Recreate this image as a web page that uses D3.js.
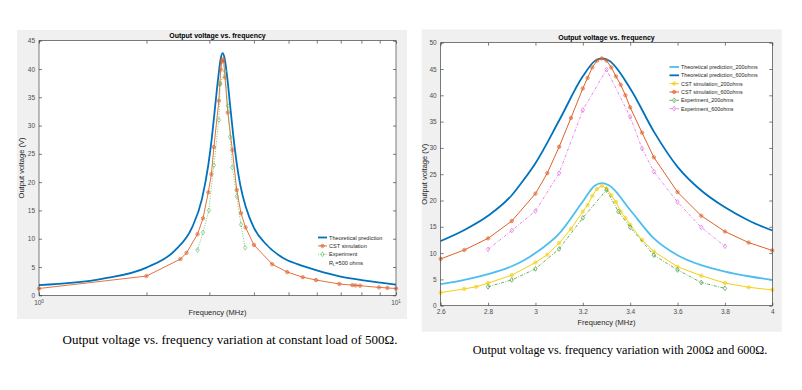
<!DOCTYPE html>
<html>
<head>
<meta charset="utf-8">
<script src="https://cdn.jsdelivr.net/npm/d3@7"></script>
<style>
  body { margin: 0; background: #fff; }
  svg { display: block; font-family: "Liberation Sans", Arial, sans-serif; }
</style>
</head>
<body>
<svg id="fig" width="802" height="390"></svg>
<script>
// ---- left chart: constant 500 ohm load, log frequency axis ----
const theoryFreq500 = [1, 1.5, 2, 2.4, 2.68, 2.86, 2.98, 3.05, 3.11, 3.18, 3.23, 3.27, 3.31, 3.37, 3.43, 3.5, 3.58, 3.66, 3.8, 4.0, 4.3, 4.8, 5.3, 6.0, 7.0, 8.2, 10];
const theoryVolt500 = [1.8, 2.9, 4.9, 7.9, 11.9, 17.0, 23.0, 27.9, 33.0, 38.7, 41.9, 42.8, 41.9, 38.3, 33.6, 28.3, 23.3, 19.6, 15.5, 11.9, 9.2, 6.7, 5.5, 4.4, 3.3, 2.6, 1.9];
const cstFreq500 = [1, 2, 2.49, 2.59, 2.78, 2.88, 2.98, 3.04, 3.09, 3.19, 3.21, 3.23, 3.25, 3.27, 3.29, 3.32, 3.38, 3.48, 3.58, 3.68, 3.79, 4.0, 4.5, 4.96, 5.48, 5.97, 6.94, 7.55, 7.71, 7.93, 8.96, 9.46, 10];
const cstVolt500 = [1.2, 3.4, 6.4, 7.5, 10.8, 13.6, 18.2, 21.4, 26.2, 34.4, 37.3, 39.9, 41.3, 41.7, 41.5, 38.5, 32.3, 25.7, 18.6, 14.5, 12.0, 8.9, 5.5, 4.1, 3.2, 2.7, 2.0, 1.8, 1.75, 1.7, 1.4, 1.3, 1.2];
const expFreq500 = [2.78, 2.88, 2.99, 3.09, 3.19, 3.22, 3.32, 3.38, 3.43, 3.48, 3.58, 3.68, 3.78];
const expVolt500 = [8.0, 11.1, 15.0, 23.0, 31.0, 37.5, 39.6, 33.5, 28.0, 22.6, 17.5, 12.5, 8.4];
const leftYTicks = [0, 5, 10, 15, 20, 25, 30, 35, 40, 45];
const leftXMinor = [1, 2, 3, 4, 5, 6, 7, 8, 9, 10];

// ---- right chart: 200 and 600 ohm loads ----
const theoryFreq = [2.6, 2.7, 2.8, 2.9, 2.95, 3.0, 3.1, 3.2, 3.25, 3.28, 3.31, 3.4, 3.5, 3.6, 3.7, 3.8, 3.9, 4.0];
const theoryVolt200 = [4.1, 4.9, 6.0, 7.5, 8.6, 10.0, 13.7, 19.8, 22.8, 23.3, 22.9, 18.2, 12.8, 9.6, 7.7, 6.5, 5.6, 4.9];
const theoryVolt600 = [12.3, 14.4, 17.1, 21.0, 23.9, 27.1, 35.2, 43.6, 46.5, 47.0, 46.6, 41.3, 33.1, 26.4, 21.9, 18.7, 16.2, 14.3];
const cstFreq200 = [2.6, 2.7, 2.75, 2.8, 2.9, 3.0, 3.05, 3.1, 3.15, 3.2, 3.22, 3.24, 3.26, 3.28, 3.3, 3.32, 3.34, 3.36, 3.38, 3.4, 3.45, 3.5, 3.6, 3.7, 3.8, 3.9, 4.0];
const cstVolt200 = [2.5, 3.2, 3.6, 4.3, 5.8, 8.2, 9.7, 11.9, 14.6, 17.9, 19.1, 20.9, 22.2, 22.8, 22.3, 21.0, 19.7, 17.9, 16.7, 15.4, 12.5, 10.3, 7.4, 5.7, 4.3, 3.5, 3.0];
const cstFreq600 = [2.6, 2.7, 2.8, 2.9, 3.0, 3.05, 3.1, 3.15, 3.2, 3.22, 3.24, 3.26, 3.28, 3.3, 3.32, 3.34, 3.36, 3.38, 3.4, 3.45, 3.5, 3.6, 3.7, 3.8, 3.9, 4.0];
const cstVolt600 = [8.9, 10.6, 12.8, 16.1, 21.3, 25.2, 30.2, 35.7, 41.3, 43.3, 45.3, 46.6, 47.0, 46.6, 45.3, 43.6, 42.0, 40.0, 37.7, 32.9, 28.2, 21.6, 17.1, 14.1, 12.0, 10.5];
const expFreq200 = [2.8, 2.9, 3.0, 3.1, 3.2, 3.3, 3.35, 3.4, 3.5, 3.6, 3.7, 3.8];
const expVolt200 = [3.6, 4.9, 7.0, 10.8, 16.7, 22.0, 17.9, 14.9, 9.6, 6.8, 4.4, 3.3];
const expFreq600 = [2.8, 2.9, 3.0, 3.1, 3.2, 3.3, 3.4, 3.45, 3.5, 3.6, 3.7, 3.8];
const expVolt600 = [10.7, 14.3, 18.0, 25.2, 37.2, 44.9, 35.9, 29.9, 25.5, 19.7, 14.9, 11.3];
const rightYTicks = [0, 5, 10, 15, 20, 25, 30, 35, 40, 45, 50];
const rightXTicks = [2.6, 2.8, 3, 3.2, 3.4, 3.6, 3.8, 4];

const svg = d3.select("#fig");

const cBlue = "#0072bd",
  cLightBlue = "#4dbeee",
  cOrange = "#e0622a",
  cYellow = "#f5cf10",
  cGreen = "#3f9b3f",
  cLightGreen = "#66c266",
  cMagenta = "#e36ce3";

function zip(xs, ys) {
  return xs.map((x, i) => [x, ys[i]]);
}

// small hexagram-ish marker used by the CST series
function cstMarker(g, pts, x, y, color) {
  const m = g.selectAll(null)
    .data(pts)
    .join("g")
    .attr("transform", (d) => `translate(${x(d[0])},${y(d[1])})`);
  m.append("circle").attr("r", 1.7)
    .attr("fill", "none").attr("stroke", color).attr("stroke-width", 0.7);
  m.append("path").attr("d", "M-1.2,0H1.2M0,-1.2V1.2")
    .attr("stroke", color).attr("stroke-width", 0.6);
}

function diamondMarker(g, pts, x, y, color) {
  g.selectAll(null)
    .data(pts)
    .join("path")
    .attr("d", "M0,-2.4L1.7,0L0,2.4L-1.7,0Z")
    .attr("transform", (d) => `translate(${x(d[0])},${y(d[1])})`)
    .attr("fill", "none")
    .attr("stroke", color)
    .attr("stroke-width", 0.7);
}

function drawFrame(opt) {
  const { bg, x0, x1, y0, y1 } = opt;
  svg.append("rect")
    .attr("x", bg[0]).attr("y", bg[1])
    .attr("width", bg[2]).attr("height", bg[3])
    .attr("fill", "#f0f0f0");
  svg.append("rect")
    .attr("x", x0).attr("y", y0)
    .attr("width", x1 - x0).attr("height", y1 - y0)
    .attr("fill", "#fff");
}

function drawBox(x0, x1, y0, y1) {
  svg.append("rect")
    .attr("x", x0).attr("y", y0)
    .attr("width", x1 - x0).attr("height", y1 - y0)
    .attr("fill", "none")
    .attr("stroke", "#262626")
    .attr("stroke-width", 0.6);
}

function styleAxis(g) {
  g.select(".domain").remove();
  g.selectAll(".tick line").attr("stroke", "#262626").attr("stroke-width", 0.6);
  g.selectAll(".tick text")
    .attr("fill", "#4d4d4d")
    .style("font-size", "6.5px")
    .style("font-family", "Liberation Sans, Arial, sans-serif");
}

function titles(cx, cy, titleY, xlabelY, ylabelX) {
  svg.append("text")
    .attr("x", cx).attr("y", titleY)
    .attr("text-anchor", "middle")
    .style("font-size", "7px").style("font-weight", "bold")
    .text("Output voltage vs. frequency");
  svg.append("text")
    .attr("x", cx).attr("y", xlabelY)
    .attr("text-anchor", "middle")
    .attr("fill", "#262626")
    .style("font-size", "7.5px")
    .text("Frequency (MHz)");
  svg.append("text")
    .attr("transform", `translate(${ylabelX},${cy}) rotate(-90)`)
    .attr("text-anchor", "middle")
    .attr("fill", "#262626")
    .style("font-size", "7.5px")
    .text("Output voltage (V)");
}

// ================= left chart =================
function drawLeft() {
  const x0 = 39, x1 = 396, y0 = 40.7, y1 = 295.3;
  drawFrame({ bg: [17, 30, 390, 289], x0, x1, y0, y1 });

  const x = d3.scaleLog().domain([1, 10]).range([x0, x1]);
  const y = d3.scaleLinear().domain([0, 45]).range([y1, y0]);

  const yl = svg.append("g").attr("transform", `translate(${x0},0)`)
    .call(d3.axisLeft(y).tickValues(leftYTicks).tickSize(-3).tickPadding(4));
  styleAxis(yl);
  const yr = svg.append("g").attr("transform", `translate(${x1},0)`)
    .call(d3.axisRight(y).tickValues(leftYTicks).tickSize(-3).tickFormat(""));
  styleAxis(yr);
  const xb = svg.append("g").attr("transform", `translate(0,${y1})`)
    .call(d3.axisBottom(x).tickValues(leftXMinor).tickSize(-3).tickFormat(""));
  styleAxis(xb);
  const xt = svg.append("g").attr("transform", `translate(0,${y0})`)
    .call(d3.axisTop(x).tickValues(leftXMinor).tickSize(-3).tickFormat(""));
  styleAxis(xt);

  // 10^0 and 10^1 labels
  [1, 10].forEach((v, i) => {
    const t = svg.append("text")
      .attr("x", x(v)).attr("y", y1 + 10)
      .attr("text-anchor", "middle")
      .attr("fill", "#4d4d4d")
      .style("font-size", "6.5px");
    t.append("tspan").text("10");
    t.append("tspan").attr("dy", -2.5).style("font-size", "4.5px").text(String(i));
  });

  const plot = svg.append("g");

  const lineLin = d3.line().x((d) => x(d[0])).y((d) => y(d[1]));
  const lineSmooth = d3.line().x((d) => x(d[0])).y((d) => y(d[1])).curve(d3.curveMonotoneX);

  const theory = zip(theoryFreq500, theoryVolt500);
  const cst = zip(cstFreq500, cstVolt500);
  const exp = zip(expFreq500, expVolt500);

  plot.append("path").datum(theory).attr("d", lineSmooth)
    .attr("fill", "none").attr("stroke", cBlue).attr("stroke-width", 1.8);
  plot.append("path").datum(cst).attr("d", lineLin)
    .attr("fill", "none").attr("stroke", cOrange).attr("stroke-width", 0.9);
  cstMarker(plot, cst, x, y, cOrange);
  plot.append("path").datum(exp).attr("d", lineLin)
    .attr("fill", "none").attr("stroke", cLightGreen).attr("stroke-width", 0.9)
    .attr("stroke-dasharray", "1,1.5");
  diamondMarker(plot, exp, x, y, cLightGreen);

  drawBox(x0, x1, y0, y1);
  titles((x0 + x1) / 2, (y0 + y1) / 2, 37.5, 315, 24);

  // legend
  const lg = svg.append("g");
  const idx = d3.scaleLinear().domain([0, 1]).range([0, 1]);
  const rows = [
    { name: "Theoretical prediction", color: cBlue, w: 1.8, dash: null, mk: null },
    { name: "CST simulation", color: cOrange, w: 0.9, dash: null, mk: "cst" },
    { name: "Experiment", color: cLightGreen, w: 0.9, dash: "1,1.5", mk: "exp" },
  ];
  rows.forEach((r, i) => {
    const ly = 237.5 + i * 8.4;
    lg.append("line").attr("x1", 318).attr("x2", 327).attr("y1", ly).attr("y2", ly)
      .attr("stroke", r.color).attr("stroke-width", r.w).attr("stroke-dasharray", r.dash);
    if (r.mk == "cst") cstMarker(lg, [[322.5, ly]], idx, idx, r.color);
    if (r.mk == "exp") diamondMarker(lg, [[322.5, ly]], idx, idx, r.color);
    lg.append("text").attr("x", 329).attr("y", ly + 2)
      .style("font-size", "5.6px").attr("fill", "#262626").text(r.name);
  });
  const rl = lg.append("text").attr("x", 329).attr("y", 237.5 + 3 * 8.4 + 2)
    .style("font-size", "5.6px").attr("fill", "#262626");
  rl.append("tspan").text("R");
  rl.append("tspan").attr("dy", 1).style("font-size", "4px").text("L");
  rl.append("tspan").attr("dy", -1).text("=500 ohms");
}

// ================= right chart =================
function drawRight() {
  const x0 = 440.7, x1 = 772.3, y0 = 42.7, y1 = 305.7;
  drawFrame({ bg: [421.7, 29.3, 360, 302.4], x0, x1, y0, y1 });

  const x = d3.scaleLinear().domain([2.6, 4]).range([x0, x1]);
  const y = d3.scaleLinear().domain([0, 50]).range([y1, y0]);

  const yl = svg.append("g").attr("transform", `translate(${x0},0)`)
    .call(d3.axisLeft(y).tickValues(rightYTicks).tickSize(-3).tickPadding(4));
  styleAxis(yl);
  const yr = svg.append("g").attr("transform", `translate(${x1},0)`)
    .call(d3.axisRight(y).tickValues(rightYTicks).tickSize(-3).tickFormat(""));
  styleAxis(yr);
  const xb = svg.append("g").attr("transform", `translate(0,${y1})`)
    .call(d3.axisBottom(x).tickValues(rightXTicks).tickSize(-3).tickPadding(4).tickFormat(d3.format("")));
  styleAxis(xb);
  const xt = svg.append("g").attr("transform", `translate(0,${y0})`)
    .call(d3.axisTop(x).tickValues(rightXTicks).tickSize(-3).tickFormat(""));
  styleAxis(xt);

  const g = svg.append("g");
  const lineLin = d3.line().x((d) => x(d[0])).y((d) => y(d[1]));
  const lineSmooth = d3.line().x((d) => x(d[0])).y((d) => y(d[1])).curve(d3.curveMonotoneX);

  g.append("path").datum(zip(theoryFreq, theoryVolt200)).attr("d", lineSmooth)
    .attr("fill", "none").attr("stroke", cLightBlue).attr("stroke-width", 1.8);
  g.append("path").datum(zip(theoryFreq, theoryVolt600)).attr("d", lineSmooth)
    .attr("fill", "none").attr("stroke", cBlue).attr("stroke-width", 1.8);

  const c200 = zip(cstFreq200, cstVolt200);
  const c600 = zip(cstFreq600, cstVolt600);
  g.append("path").datum(c200).attr("d", lineLin)
    .attr("fill", "none").attr("stroke", cYellow).attr("stroke-width", 1);
  cstMarker(g, c200, x, y, cYellow);
  g.append("path").datum(c600).attr("d", lineLin)
    .attr("fill", "none").attr("stroke", cOrange).attr("stroke-width", 1);
  cstMarker(g, c600, x, y, cOrange);

  const e200 = zip(expFreq200, expVolt200);
  const e600 = zip(expFreq600, expVolt600);
  g.append("path").datum(e200).attr("d", lineLin)
    .attr("fill", "none").attr("stroke", cGreen).attr("stroke-width", 0.8)
    .attr("stroke-dasharray", "3,1.5,0.8,1.5");
  diamondMarker(g, e200, x, y, cGreen);
  g.append("path").datum(e600).attr("d", lineLin)
    .attr("fill", "none").attr("stroke", cMagenta).attr("stroke-width", 0.8)
    .attr("stroke-dasharray", "3,1.5,0.8,1.5");
  diamondMarker(g, e600, x, y, cMagenta);

  drawBox(x0, x1, y0, y1);
  titles((x0 + x1) / 2, (y0 + y1) / 2, 39.5, 325, 427);

  const lg = svg.append("g");
  const rows = [
    { name: "Theoretical prediction_200ohms", color: cLightBlue, w: 1.8, dash: null, mk: null },
    { name: "Theoretical prediction_600ohms", color: cBlue, w: 1.8, dash: null, mk: null },
    { name: "CST simulation_200ohms", color: cYellow, w: 1, dash: null, mk: "cst" },
    { name: "CST simulation_600ohms", color: cOrange, w: 1, dash: null, mk: "cst" },
    { name: "Experiment_200ohms", color: cGreen, w: 0.8, dash: "3,1.5,0.8,1.5", mk: "exp" },
    { name: "Experiment_600ohms", color: cMagenta, w: 0.8, dash: "3,1.5,0.8,1.5", mk: "exp" },
  ];
  const idx = d3.scaleLinear().domain([0, 1]).range([0, 1]);
  rows.forEach((r, i) => {
    const ly = 67 + i * 8.33;
    lg.append("line").attr("x1", 669.5).attr("x2", 679).attr("y1", ly).attr("y2", ly)
      .attr("stroke", r.color).attr("stroke-width", r.w).attr("stroke-dasharray", r.dash);
    if (r.mk == "cst") cstMarker(lg, [[674.2, ly]], idx, idx, r.color);
    if (r.mk == "exp") diamondMarker(lg, [[674.2, ly]], idx, idx, r.color);
    lg.append("text").attr("x", 681).attr("y", ly + 2)
      .style("font-size", "5.4px").attr("fill", "#262626").text(r.name);
  });
}

drawLeft();
drawRight();

// captions under the figures
svg.append("text")
  .attr("x", 230).attr("y", 344)
  .attr("text-anchor", "middle")
  .style("font-family", "Liberation Serif, Times New Roman, serif")
  .style("font-size", "13px")
  .text("Output voltage vs. frequency variation at constant load of 500\u03A9.");
svg.append("text")
  .attr("x", 620).attr("y", 354)
  .attr("text-anchor", "middle")
  .style("font-family", "Liberation Serif, Times New Roman, serif")
  .style("font-size", "12.1px")
  .text("Output voltage vs. frequency variation with 200\u03A9 and 600\u03A9.");
</script>
</body>
</html>
